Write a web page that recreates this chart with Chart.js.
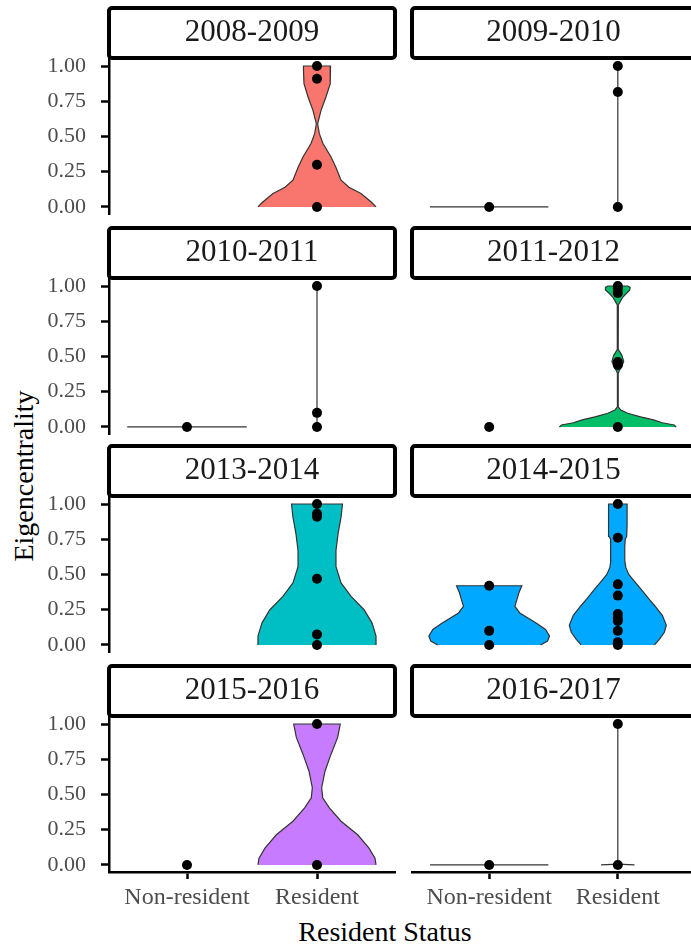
<!DOCTYPE html>
<html>
<head>
<meta charset="utf-8">
<script src="https://cdn.jsdelivr.net/npm/chart.js@4.4.1/dist/chart.umd.min.js"></script>
<style>
  html, body { margin: 0; padding: 0; background: #fff; }
  body { width: 691px; height: 949px; position: relative; overflow: hidden; font-family: 'Liberation Serif', serif; }
  canvas { position: absolute; }
  .axis-title { position: absolute; font-size: 28px; color: #000; white-space: nowrap; line-height: 1; }
  #ytitle { left: 24px; top: 476px; transform: translate(-50%, -50%) rotate(-90deg); }
  #xtitle { left: 385px; top: 932px; transform: translate(-50%, -50%); }
</style>
</head>
<body>
<div id="ytitle" class="axis-title">Eigencentrality</div>
<div id="xtitle" class="axis-title">Resident Status</div>
<script>
const panels = ['2008-2009', '2009-2010', '2010-2011', '2011-2012', '2013-2014', '2014-2015', '2015-2016', '2016-2017'];
const categories = ['Non-resident', 'Resident'];
const yTicks = [0, 0.25, 0.5, 0.75, 1];
const fillColors = ['#F8766D', '#CD9600', '#7CAE00', '#00BE67', '#00BFC4', '#00A9FF', '#C77CFF', '#FF61CC'];

// eigencentrality of each individual, per season
const nonResidentPoints = [[], [0], [0], [0], [], [0.42, 0.10, 0], [0], [0]];
const residentPoints = [
  [1, 0.91, 0.30, 0],
  [1, 0.815, 0],
  [1, 0.10, 0],
  [1, 0.98, 0.95, 0.46, 0.44, 0],
  [1, 0.93, 0.91, 0.47, 0.075, 0],
  [1, 0.76, 0.43, 0.35, 0.22, 0.19, 0.17, 0.10, 0.02, 0],
  [1, 0],
  [1, 0]
];

// violin outlines: density levels and half widths (in category units)
const flatLevels = [0];
const flatWidths = [0.46];
const stickLevels = [0, 1];
const stickWidths = [0, 0];
const v0809Levels = [0, 0.03, 0.06, 0.095, 0.14, 0.19, 0.28, 0.355, 0.45, 0.52, 0.59, 0.685, 0.78, 0.875, 0.97, 1];
const v0809Widths = [0.454, 0.423, 0.385, 0.338, 0.246, 0.185, 0.146, 0.108, 0.046, 0.018, 0.005, 0.031, 0.069, 0.100, 0.104, 0.104];
const v1112Levels = [0, 0.014, 0.03, 0.05, 0.072, 0.097, 0.12, 0.143, 0.38, 0.40, 0.43, 0.465, 0.51, 0.55, 0.865, 0.9, 0.92, 0.945, 0.97, 0.99, 1];
const v1112Widths = [0.454, 0.438, 0.346, 0.277, 0.177, 0.077, 0.023, 0.003, 0.003, 0.012, 0.031, 0.046, 0.031, 0.003, 0.004, 0.025, 0.038, 0.064, 0.092, 0.096, 0.077];
const v1314Levels = [0, 0.063, 0.157, 0.25, 0.344, 0.44, 0.555, 0.67, 0.79, 0.906, 1];
const v1314Widths = [0.454, 0.454, 0.423, 0.362, 0.262, 0.185, 0.146, 0.146, 0.162, 0.185, 0.196];
const v1415nLevels = [0, 0.028, 0.063, 0.11, 0.157, 0.227, 0.274, 0.32, 0.37, 0.42];
const v1415nWidths = [0.40, 0.454, 0.469, 0.438, 0.362, 0.238, 0.20, 0.215, 0.231, 0.254];
const v1415rLevels = [0, 0.04, 0.09, 0.14, 0.21, 0.28, 0.33, 0.40, 0.45, 0.50, 0.55, 0.60, 0.70, 0.75, 0.77, 0.85, 1];
const v1415rWidths = [0.285, 0.323, 0.362, 0.377, 0.346, 0.285, 0.238, 0.177, 0.131, 0.085, 0.062, 0.054, 0.054, 0.058, 0.069, 0.072, 0.072];
const v1516Levels = [0, 0.048, 0.119, 0.214, 0.31, 0.405, 0.476, 0.548, 0.667, 0.786, 0.905, 1];
const v1516Widths = [0.454, 0.446, 0.40, 0.313, 0.185, 0.095, 0.044, 0.036, 0.062, 0.108, 0.159, 0.179];
const v1617Levels = [0, 0.006, 1];
const v1617Widths = [0.13, 0, 0];

const nonResidentViolins = [null, [flatLevels, flatWidths], [flatLevels, flatWidths], null, null,
  [v1415nLevels, v1415nWidths], null, [flatLevels, flatWidths]];
const residentViolins = [[v0809Levels, v0809Widths], [stickLevels, stickWidths], [stickLevels, stickWidths],
  [v1112Levels, v1112Widths], [v1314Levels, v1314Widths], [v1415rLevels, v1415rWidths],
  [v1516Levels, v1516Widths], [v1617Levels, v1617Widths]];

const rowTops = [0, 220, 438, 658];

Chart.defaults.font.family = "'Liberation Serif', serif";

function violinPath(center, levels, widths) {
  const left = levels.map((y, i) => ({x: center - widths[i], y: y}));
  const right = levels.map((y, i) => ({x: center + widths[i], y: y})).reverse();
  return left.concat(right);
}

const stripBox = {
  id: 'stripBox',
  beforeDraw: (chart) => {
    const t = chart.titleBlock;
    const ctx = chart.ctx;
    ctx.save();
    ctx.fillStyle = '#fff';
    ctx.strokeStyle = '#000';
    ctx.lineWidth = 4;
    ctx.beginPath();
    ctx.roundRect(t.left, t.top + 1, t.width, t.height - 2, 3);
    ctx.fill();
    ctx.stroke();
    ctx.restore();
  }
};

function makePanel(i) {
  const col = i % 2;
  const row = Math.floor(i / 2);
  const bottomRow = row === 3;
  const canvas = document.createElement('canvas');
  canvas.width = col === 0 ? 400 : 300;
  canvas.height = bottomRow ? 260 : 220;
  canvas.style.left = (col === 0 ? 0 : 400) + 'px';
  canvas.style.top = rowTops[row] + 'px';
  document.body.appendChild(canvas);

  const dots = nonResidentPoints[i].map(v => ({x: 1, y: v}))
    .concat(residentPoints[i].map(v => ({x: 2, y: v})));
  const datasets = [{
    type: 'scatter',
    data: dots,
    pointRadius: 5,
    pointBackgroundColor: '#000',
    pointBorderWidth: 0,
    order: 0
  }];
  [nonResidentViolins[i], residentViolins[i]].forEach((v, k) => {
    if (!v) return;
    datasets.push({
      type: 'line',
      data: violinPath(k + 1, v[0], v[1]),
      fill: 'shape',
      backgroundColor: fillColors[i],
      borderColor: '#333333',
      borderWidth: 1.2,
      pointRadius: 0,
      pointHitRadius: 0,
      tension: 0,
      order: 1
    });
  });

  new Chart(canvas, {
    type: 'scatter',
    data: {datasets: datasets},
    options: {
      animation: false,
      responsive: false,
      events: [],
      layout: {
        padding: {top: 7, left: col === 0 ? 0 : 12, right: col === 0 ? 5 : 2, bottom: bottomRow ? 0 : 6}
      },
      plugins: {
        legend: {display: false},
        tooltip: {enabled: false},
        title: {
          display: true,
          text: panels[i],
          fullSize: false,
          color: '#1A1A1A',
          font: {size: 31, weight: 'normal', lineHeight: 1.16},
          padding: {top: 8, bottom: 8}
        }
      },
      scales: {
        x: {
          type: 'linear',
          min: 0.4,
          max: 2.6,
          display: bottomRow,
          afterBuildTicks: (scale) => { scale.ticks = categories.map((c, k) => ({value: k + 1})); },
          afterFit: (scale) => {
            if (bottomRow) scale.height = 46;
            scale.paddingLeft = 0;
            scale.paddingRight = 0;
          },
          ticks: {
            callback: (v) => categories[v - 1],
            color: '#4D4D4D',
            font: {size: 24},
            padding: 4,
            autoSkip: false,
            maxRotation: 0
          },
          grid: {drawOnChartArea: false, drawTicks: true, tickLength: 7, tickWidth: 2.5, tickColor: '#000'},
          border: {display: true, color: '#000', width: 2.5}
        },
        y: {
          type: 'linear',
          min: -0.05,
          max: 1.05,
          display: col === 0,
          afterBuildTicks: (scale) => { scale.ticks = yTicks.map(v => ({value: v})); },
          afterFit: (scale) => {
            if (col === 0) scale.width = 109;
            scale.paddingTop = 0;
            scale.paddingBottom = 0;
          },
          ticks: {
            callback: (v) => v.toFixed(2),
            color: '#4D4D4D',
            font: {size: 22},
            padding: 15,
            autoSkip: false
          },
          grid: {drawOnChartArea: false, drawTicks: true, tickLength: 8, tickWidth: 2.5, tickColor: '#000'},
          border: {display: true, color: '#000', width: 2.5}
        }
      }
    },
    plugins: [stripBox]
  });
}

panels.forEach((p, i) => makePanel(i));
</script>
</body>
</html>
